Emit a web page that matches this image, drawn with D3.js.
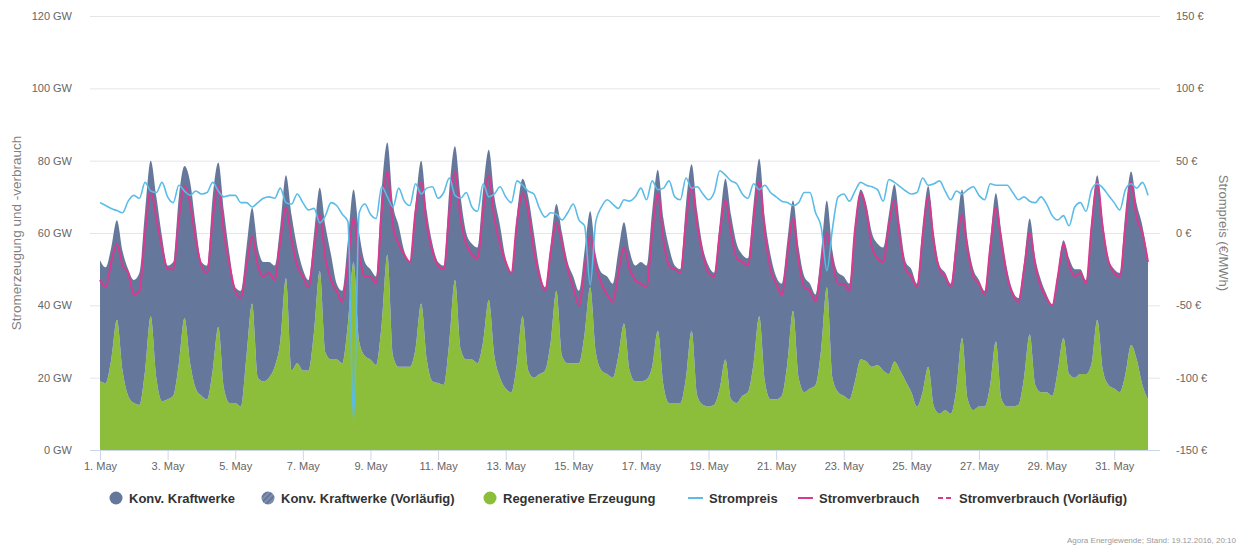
<!DOCTYPE html>
<html>

<head>
  <meta charset="utf-8">
  <title>Agora Energiewende Mai 2016</title>
  <script src="https://d3js.org/d3.v7.min.js"></script>
  <style>
    body { margin: 0; background: #fff; font-family: "Liberation Sans", Arial, sans-serif; }
  </style>
</head>

<body>
  <div id='view'></div>
  <script>
    // values every 4 hours from 1 May 00:00 (6 per day), last value = 1 June 00:00
    var regenerative = [
      19, 18.5, 25, 36, 22, 15,    13, 12.5, 22, 37, 20, 13.5,  14, 15, 24, 36.5, 24, 17,
      15, 14, 22, 34, 17, 13,      13, 12, 26, 40.5, 20, 19,    20, 23, 30, 47.5, 22, 24,
      22, 22, 33, 49.5, 27, 25,    25, 24, 35, 52, 30, 26,      25, 23.5, 35, 54, 26, 23,
      23, 23, 28, 40.5, 25, 19,    18.5, 18, 30, 47, 28, 25,    25, 24, 30, 41.5, 26, 20,
      17, 16, 24, 37, 22, 20,      21, 22, 30, 44, 26, 24,      24, 24, 32, 45, 27, 22,
      21, 20, 26, 35, 22, 19,      19, 19.5, 23, 33, 18, 13,    13, 13, 20, 33, 15, 12.5,
      12, 12.5, 17, 25, 14, 13,    15, 16, 24, 37, 19, 14,      14, 15, 24, 38.5, 20, 16,
      17, 18, 28, 45, 20, 16,      15, 14, 19, 25, 24.5, 23,    23.5, 22, 21, 24.5, 22, 19,
      16, 12, 16, 23, 12, 10,      11, 10, 17, 31, 14, 11,      12, 12, 18, 30, 14, 12,
      12, 12.5, 20, 32, 18, 16,    16, 15, 22, 31, 21, 20,      21, 21, 24, 36, 22, 18,
      17, 16, 21, 29, 25, 18,      14
    ];
    var konv = [
      33.5, 32, 31, 27.5, 33, 35,  34, 36.5, 44, 43, 50, 45.5,  37, 37, 46, 42, 50, 45,
      37, 37, 48, 45.5, 49, 41,    32, 32, 30, 26.5, 36, 33,    32, 28, 32, 28.5, 43, 32,
      28, 25, 27, 23, 35, 29,      21, 20, 23, 20, 30, 26,      25, 24.5, 37, 31, 42, 39,
      32, 29, 40, 39.5, 41, 38,    33.5, 33, 42, 37, 42, 35,    32, 32, 42, 41.5, 44, 42,
      36, 33, 41, 38, 48, 40,      29, 23, 27, 24, 34, 28,      24, 20, 23, 21, 27, 27,
      27, 26, 29, 28, 33, 32,      33, 31.5, 43, 44.5, 46, 43,  38, 37, 48, 46, 51, 43.5,
      39, 36.5, 46, 50, 51, 44,    39, 37, 44, 43.5, 45, 40,    34, 31, 34, 30.5, 36, 32,
      29, 25, 27, 24, 35, 33,      33, 32, 43, 47, 43.5, 37,    33.5, 34, 44, 49, 40, 33,
      34, 34, 46, 50, 48, 41,      38, 36, 43, 41, 44, 39,      35, 32, 40, 41, 46, 38,
      32, 29.5, 32, 32, 35, 31,    27, 25, 27, 27, 32, 30,      29, 26, 40, 40, 41, 35,
      33, 33, 45, 48, 43, 44,      39
    ];
    var verbrauch = [
      47, 45, 52, 57, 51, 49,      43, 44, 60, 72, 64, 56,      50, 50, 64, 73, 68, 58,
      51, 49, 64, 73, 60, 51,      44, 42, 51, 59, 51, 48,      49, 47, 58, 67, 58, 51,
      48, 45, 56, 65, 53, 47,      44, 41, 52, 64, 54, 48,      48, 46, 66, 77, 62, 57,
      54, 52, 66, 74, 62, 55,      51, 50, 66, 77, 64, 57,      54, 53, 66, 76, 64, 57,
      52, 49, 63, 71, 66, 55,      48, 44, 55, 63, 57, 50,      45, 40, 50, 59, 51, 46,
      43, 41, 49, 56, 50, 47,      46, 45, 60, 71, 58, 51,      50, 49, 63, 73, 62, 54,
      49, 48, 60, 69, 60, 53,      52, 51, 64, 74, 60, 50,      46, 43, 54, 64, 52, 45,
      44, 41, 51, 60, 52, 46,      46, 44, 61, 71, 66, 56,      53, 52, 62, 69, 58, 50,
      48, 45, 59, 70, 57, 50,      48, 45, 56, 65, 55, 48,      46, 43, 56, 67, 57, 48,
      43, 41, 50, 60, 51, 45,      42, 40, 48, 57, 51, 48,      49, 46, 62, 74, 61, 52,
      49, 48, 62, 74, 64, 60,      52
    ];
    var strompreis = [
      21, 19, 17, 15.5, 14, 22,    26, 24, 35, 29, 28, 35,      25, 21, 33, 29, 26, 29,
      27, 28, 35, 29, 25, 26,      26, 21, 21, 18, 21, 24,      25, 24, 31, 21, 20, 27,
      21, 16, 17, 7, 12, 21,       19, 13, 8, -129, 14, 20,     13, 10, 32, 25, 18, 31,
      22, 19, 34, 27, 31, 32,      24, 28, 38, 26, 24, 28,      18, 15, 34, 25, 27, 32,
      25, 21, 36, 33, 29, 27,      17, 11, 14, 13, 9, 14,       20, 9, 5, -36, 8, 18,
      23, 20, 17, 23, 22, 25,      31, 23, 36, 30, 31, 36,      25, 23, 38, 31, 32, 27,
      23, 28, 43, 40, 36, 34,      27, 24, 34, 30, 33, 28,      25, 22, 21, 19, 21, 28,
      28, 14, 4, -26, 3, 25,       27, 22, 29, 35, 33, 32,      30, 22, 37, 35, 32, 29,
      27, 28, 38, 33, 34, 36,      29, 23, 29, 27, 30, 32,      26, 23, 34, 33, 33, 33,
      28, 23, 25, 22, 21, 25,      20, 12, 9, 12, 5, 18,        21, 15, 30, 34, 31, 26,
      21, 16, 30, 34, 31, 35,      26
    ];
    var gwTicks = [0, 20, 40, 60, 80, 100, 120];
    var euroTicks = [-150, -100, -50, 0, 50, 100, 150];
    var dayTicks = [1, 3, 5, 7, 9, 11, 13, 15, 17, 19, 21, 23, 25, 27, 29, 31];
    var legendItems = [
      { name: "Konv. Kraftwerke", type: "dot", color: "#65789b", x: 116 },
      { name: "Konv. Kraftwerke (Vorläufig)", type: "hatch", color: "#65789b", x: 268 },
      { name: "Regenerative Erzeugung", type: "dot", color: "#8cbe3c", x: 490 },
      { name: "Strompreis", type: "line", color: "#5bbce8", x: 688 },
      { name: "Stromverbrauch", type: "line", color: "#d9398e", x: 798 },
      { name: "Stromverbrauch (Vorläufig)", type: "dash", color: "#d9398e", x: 938 }
    ];

    var width = 1239;
    var height = 548;
    var start = Date.UTC(2016, 4, 1);

    var svg = d3.select("#view")
      .append("svg")
      .attr("width", width)
      .attr("height", height)
      .style("font-family", '"Liberation Sans", Arial, sans-serif');

    var rows = regenerative.map(function (v, i) {
      return {
        t: new Date(start + i * 4 * 3600000),
        regenerative: v,
        konv: konv[i],
        verbrauch: verbrauch[i],
        preis: strompreis[i]
      };
    });

    var x = d3.scaleUtc()
      .domain([new Date(start), new Date(Date.UTC(2016, 5, 1))])
      .range([100, 1148]);
    var y = d3.scaleLinear().domain([0, 120]).range([450, 16]);
    var yEuro = d3.scaleLinear().domain([-150, 150]).range([450, 16]);

    // grid lines
    svg.append("g")
      .selectAll("line")
      .data(gwTicks.slice(1))
      .join("line")
      .attr("x1", 90)
      .attr("x2", 1160)
      .attr("y1", function (d) { return y(d) + 0.5; })
      .attr("y2", function (d) { return y(d) + 0.5; })
      .attr("stroke", "#e6e6e6")
      .attr("stroke-width", 1);

    // stacked areas
    var stack = d3.stack().keys(["regenerative", "konv"]);
    var series = stack(rows);
    var areaColors = { regenerative: "#8cbe3c", konv: "#65789b" };
    var area = d3.area()
      .curve(d3.curveMonotoneX)
      .x(function (d) { return x(d.data.t); })
      .y0(function (d) { return y(d[0]); })
      .y1(function (d) { return y(d[1]); });

    svg.append("g")
      .selectAll("path")
      .data(series)
      .join("path")
      .attr("d", area)
      .attr("fill", function (d) { return areaColors[d.key]; });

    // consumption line
    var lineVerbrauch = d3.line()
      .curve(d3.curveMonotoneX)
      .x(function (d) { return x(d.t); })
      .y(function (d) { return y(d.verbrauch); });
    svg.append("path")
      .datum(rows)
      .attr("d", lineVerbrauch)
      .attr("fill", "none")
      .attr("stroke", "#d9398e")
      .attr("stroke-width", 2);

    // price line (right axis)
    var linePreis = d3.line()
      .curve(d3.curveMonotoneX)
      .x(function (d) { return x(d.t); })
      .y(function (d) { return yEuro(d.preis); });
    svg.append("path")
      .datum(rows)
      .attr("d", linePreis)
      .attr("fill", "none")
      .attr("stroke", "#5bbce8")
      .attr("stroke-width", 1.6);

    // x axis
    var xAxis = svg.append("g")
      .attr("transform", "translate(0,450)")
      .call(d3.axisBottom(x)
        .tickValues(dayTicks.map(function (d) { return new Date(Date.UTC(2016, 4, d)); }))
        .tickSize(10)
        .tickFormat(function (d) { return d.getUTCDate() + ". May"; }));
    xAxis.select(".domain").remove();
    xAxis.append("line")
      .attr("x1", 90).attr("x2", 1160)
      .attr("y1", 0.5).attr("y2", 0.5)
      .attr("stroke", "#ccd6eb");
    xAxis.selectAll(".tick line").attr("stroke", "#ccd6eb");
    xAxis.selectAll(".tick text")
      .attr("y", 12)
      .attr("fill", "#666")
      .style("font-size", "11px")
      .style("font-family", '"Liberation Sans", Arial, sans-serif');

    // left axis
    var yAxis = svg.append("g")
      .attr("transform", "translate(75,0)")
      .call(d3.axisLeft(y)
        .tickValues(gwTicks)
        .tickSize(0)
        .tickFormat(function (d) { return d + " GW"; }));
    yAxis.select(".domain").remove();
    yAxis.selectAll("text")
      .attr("fill", "#666")
      .style("font-size", "11px")
      .style("font-family", '"Liberation Sans", Arial, sans-serif');

    // right axis
    var yAxisR = svg.append("g")
      .attr("transform", "translate(1173,0)")
      .call(d3.axisRight(yEuro)
        .tickValues(euroTicks)
        .tickSize(0)
        .tickFormat(function (d) { return d + " €"; }));
    yAxisR.select(".domain").remove();
    yAxisR.selectAll("text")
      .attr("fill", "#666")
      .style("font-size", "11px")
      .style("font-family", '"Liberation Sans", Arial, sans-serif');

    // axis titles
    svg.append("text")
      .attr("transform", "translate(21,233) rotate(-90)")
      .attr("text-anchor", "middle")
      .attr("fill", "#808080")
      .style("font-size", "13.5px")
      .text("Stromerzeugung und -verbrauch");
    svg.append("text")
      .attr("transform", "translate(1219,233) rotate(90)")
      .attr("text-anchor", "middle")
      .attr("fill", "#808080")
      .style("font-size", "13px")
      .text("Strompreis (€/MWh)");

    // legend
    var defs = svg.append("defs");
    var pat = defs.append("pattern")
      .attr("id", "hatch")
      .attr("patternUnits", "userSpaceOnUse")
      .attr("width", 4)
      .attr("height", 4)
      .attr("patternTransform", "rotate(45)");
    pat.append("rect").attr("width", 4).attr("height", 4).attr("fill", "#65789b");
    pat.append("rect").attr("width", 1.5).attr("height", 4).attr("fill", "#8796b3");

    var legend = svg.append("g").attr("transform", "translate(0,498)");
    legendItems.forEach(function (it) {
      var g = legend.append("g").attr("transform", "translate(" + it.x + ",0)");
      var textX = 13;
      if (it.type === "dot" || it.type === "hatch") {
        g.append("circle")
          .attr("r", 6.5)
          .attr("fill", it.type === "hatch" ? "url(#hatch)" : it.color);
      } else {
        g.append("line")
          .attr("x1", 0).attr("x2", 15)
          .attr("stroke", it.color)
          .attr("stroke-width", 2)
          .attr("stroke-dasharray", it.type === "dash" ? "5,3" : null);
        textX = 21;
      }
      g.append("text")
        .attr("x", textX)
        .attr("dy", "0.35em")
        .attr("fill", "#333")
        .style("font-size", "13px")
        .style("font-weight", "bold")
        .text(it.name);
    });

    // credits
    svg.append("text")
      .attr("x", 1236)
      .attr("y", 543)
      .attr("text-anchor", "end")
      .attr("fill", "#999")
      .style("font-size", "8px")
      .text("Agora Energiewende; Stand: 19.12.2016, 20:10");
  </script>
</body>

</html>
